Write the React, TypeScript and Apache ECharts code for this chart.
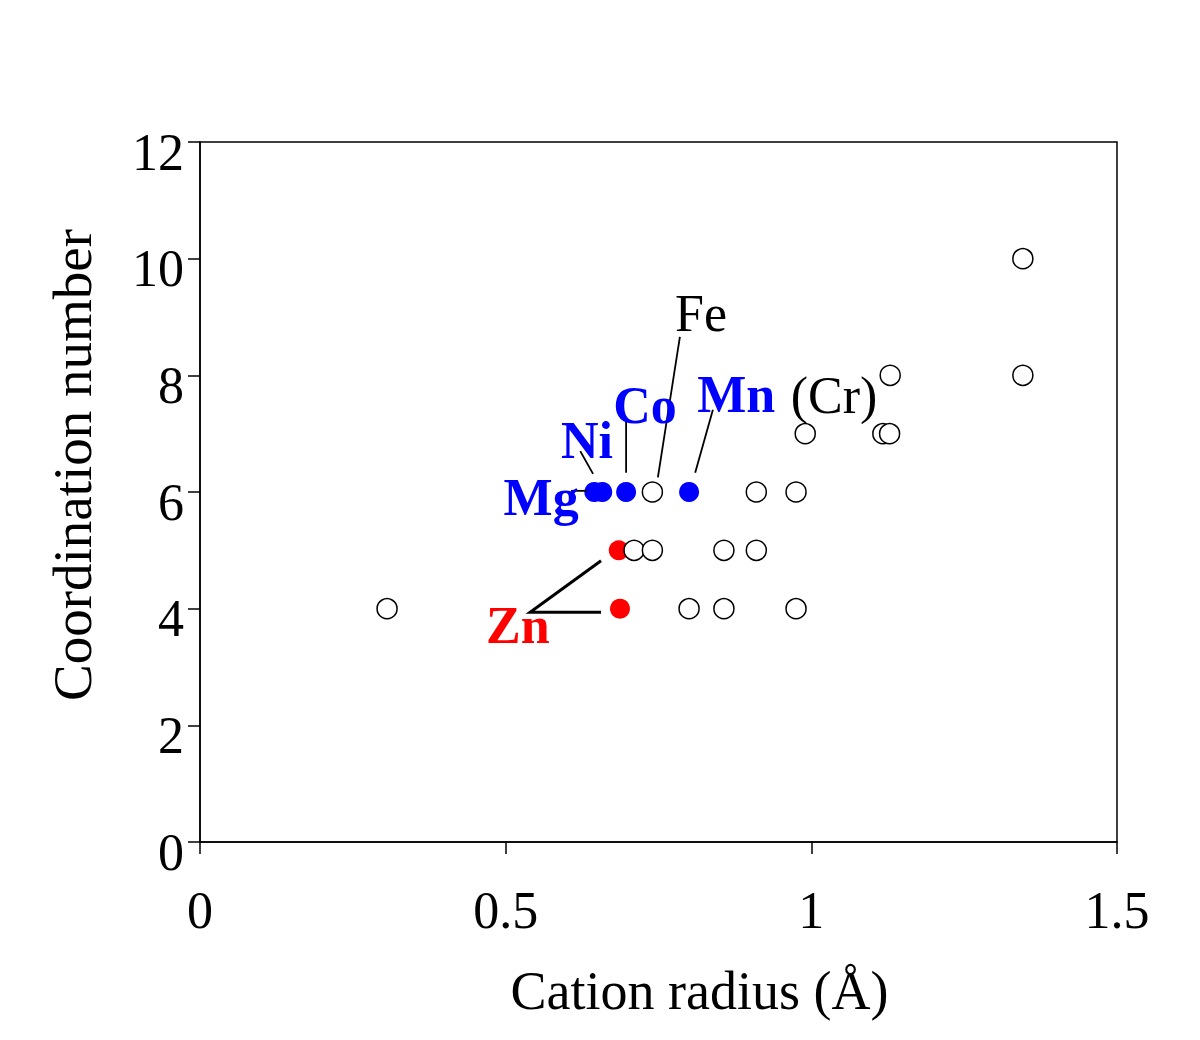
import React, { useEffect, useRef } from "react";
import * as echarts from "echarts";

const FONT = '"Liberation Serif", "Times New Roman", serif';

// Open circles: [cation radius (Å), coordination number]
const openPoints: [number, number][] = [
  [0.306, 4], [0.80, 4], [0.857, 4], [0.975, 4],
  [0.71, 5], [0.74, 5], [0.857, 5], [0.91, 5],
  [0.74, 6], [0.91, 6], [0.975, 6],
  [0.99, 7], [1.117, 7], [1.128, 7],
  [1.129, 8], [1.346, 8],
  [1.346, 10],
];

// Highlighted cations (blue)
const blueNames = ["Mg", "Ni", "Co", "Mn"];
const blueRadius = [0.645, 0.658, 0.697, 0.80];
const blueCN = [6, 6, 6, 6];

// Zn (red)
const redRadius = [0.685, 0.687];
const redCN = [5, 4];

// Axis ticks
const xTicks = [0, 0.5, 1, 1.5];
const yTicks = [0, 2, 4, 6, 8, 10, 12];

// Annotation labels (data coordinates)
const labelTexts = ["Fe", "Co", "Mn", "(Cr)", "Ni", "Mg", "Zn"];
const labelX = [0.8195, 0.728, 0.877, 1.037, 0.633, 0.558, 0.52];
const labelY = [9.06, 7.48, 7.67, 7.66, 6.89, 5.91, 3.71];
const labelColors = ["#000000", "#0000FF", "#0000FF", "#000000", "#0000FF", "#0000FF", "#FF0000"];
const labelBold = [false, true, true, false, true, true, true];

// Leader lines (data coordinates)
const leaderLines: [number, number][][] = [
  [[0.785, 8.66], [0.749, 6.25]],
  [[0.697, 7.22], [0.697, 6.33]],
  [[0.839, 7.41], [0.81, 6.33]],
  [[0.622, 6.7], [0.643, 6.31]],
  [[0.607, 6.02], [0.633, 6.02]],
  [[0.656, 4.82], [0.54, 3.94], [0.656, 3.94]],
];
const leaderWidths = [1.8, 1.8, 1.8, 1.8, 1.8, 3];

export default function App() {
  const ref = useRef<HTMLDivElement>(null);

  useEffect(() => {
    if (!ref.current) return;
    const chart = echarts.init(ref.current, undefined, { renderer: "svg" });
    const option: any = {
      animation: false,
      backgroundColor: "#ffffff",
      grid: {
        left: 200,
        top: 142,
        width: 917,
        height: 700,
        show: true,
        borderColor: "#000",
        borderWidth: 1.5,
        backgroundColor: "transparent",
      },
      xAxis: {
        type: "value",
        min: xTicks[0],
        max: xTicks[xTicks.length - 1],
        interval: 0.5,
        name: "Cation radius (Å)",
        nameLocation: "middle",
        nameGap: 122,
        nameTextStyle: { fontFamily: FONT, fontSize: 54, color: "#000", padding: [0, 0, 0, 82] },
        axisLine: { show: true, lineStyle: { color: "#000", width: 1.5 } },
        axisTick: { show: true, inside: false, length: 12, lineStyle: { color: "#000", width: 1.5 } },
        axisLabel: {
          margin: 42,
          fontFamily: FONT,
          fontSize: 52,
          color: "#000",
          formatter: (v: number) => String(v),
        },
        splitLine: { show: false },
      },
      yAxis: {
        type: "value",
        min: yTicks[0],
        max: yTicks[yTicks.length - 1],
        interval: 2,
        name: "Coordination number",
        nameLocation: "middle",
        nameGap: 100,
        nameTextStyle: { fontFamily: FONT, fontSize: 55, color: "#000", padding: [0, 0, 0, 54] },
        axisLine: { show: true, lineStyle: { color: "#000", width: 1.5 } },
        axisTick: { show: true, inside: false, length: 12, lineStyle: { color: "#000", width: 1.5 } },
        axisLabel: {
          margin: 16,
          fontFamily: FONT,
          fontSize: 52,
          color: "#000",
          verticalAlign: "top",
          lineHeight: 20,
        },
        splitLine: { show: false },
      },
      series: [
        {
          type: "scatter",
          name: "Zn",
          symbol: "circle",
          symbolSize: 20,
          itemStyle: { color: "#FF0000", opacity: 1 },
          data: redRadius.map((r, i) => [r, redCN[i]]),
          z: 2,
        },
        {
          type: "scatter",
          name: "other",
          symbol: "circle",
          symbolSize: 20,
          itemStyle: { color: "#ffffff", borderColor: "#000", borderWidth: 1.5, opacity: 1 },
          data: openPoints,
          z: 3,
        },
        {
          type: "scatter",
          name: "blue",
          symbol: "circle",
          symbolSize: 20,
          itemStyle: { color: "#0000FF", opacity: 1 },
          data: blueRadius.map((r, i) => ({ value: [r, blueCN[i]], name: blueNames[i] })),
          z: 4,
        },
        {
          type: "lines",
          coordinateSystem: "cartesian2d",
          polyline: true,
          silent: true,
          z: 5,
          data: leaderLines.map((coords, i) => ({
            coords,
            lineStyle: { color: "#000", width: leaderWidths[i], opacity: 1 },
          })),
          lineStyle: { color: "#000", width: 1.8, opacity: 1 },
        },
        {
          type: "scatter",
          name: "labels",
          symbolSize: 1,
          silent: true,
          itemStyle: { color: "rgba(0,0,0,0)", opacity: 1 },
          z: 6,
          data: labelTexts.map((t, i) => ({
            value: [labelX[i], labelY[i]],
            label: {
              show: true,
              position: "inside",
              formatter: t,
              fontFamily: FONT,
              fontSize: 52,
              fontWeight: labelBold[i] ? "bold" : "normal",
              color: labelColors[i],
              opacity: 1,
            },
          })),
        },
      ],
    };
    chart.setOption(option);
    return () => chart.dispose();
  }, []);

  return (
    <div
      ref={ref}
      style={{ position: "absolute", left: 0, top: 0, width: 1200, height: 1040, background: "#fff" }}
    />
  );
}
